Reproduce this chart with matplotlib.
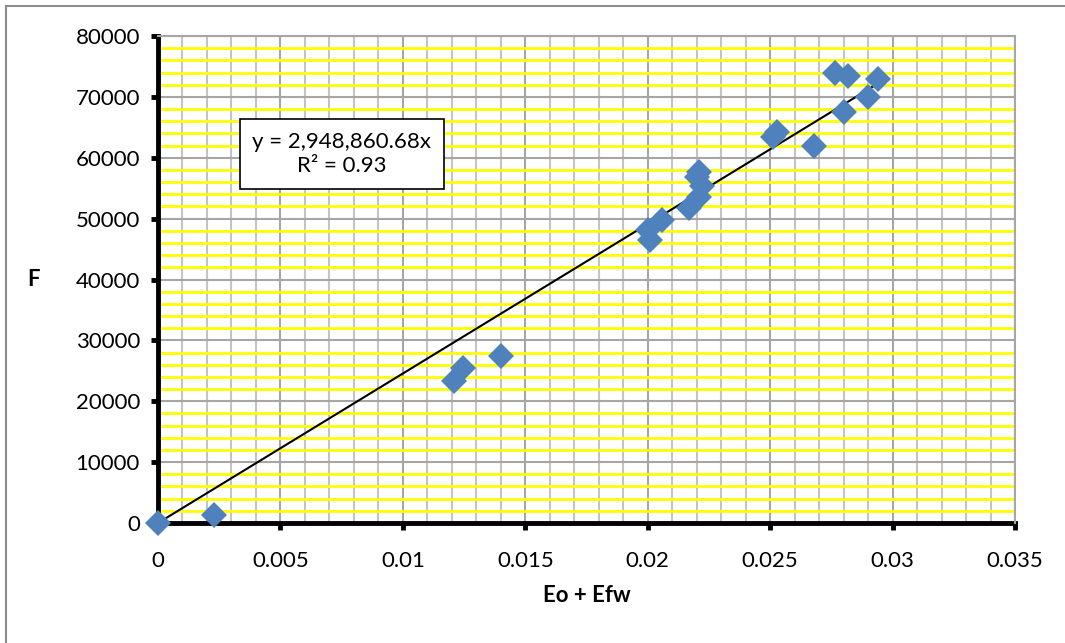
import numpy as np
import matplotlib
matplotlib.use("Agg")
import matplotlib.pyplot as plt
from matplotlib.ticker import MultipleLocator, FuncFormatter
import matplotlib.patches as mpatches

plt.rcParams['font.family'] = ['Lato', 'DejaVu Sans']

# datos
eo_efw = [0.0, 0.0023, 0.0121, 0.01245, 0.0140,
          0.0200, 0.0201, 0.0206, 0.0217, 0.0221,
          0.0220, 0.0222, 0.0221, 0.0251, 0.0253,
          0.0268, 0.02765, 0.0280, 0.0282, 0.0290, 0.0294]
F = [0, 1300, 23400, 25500, 27400,
     48200, 46500, 49800, 51800, 57700,
     56800, 55300, 53600, 63400, 64300,
     62000, 73900, 67500, 73500, 70000, 72900]

etiqueta = "y = 2,948,860.68x\nR² = 0.93"

x = np.array(eo_efw)
y = np.array(F)
# recta por el origen (minimos cuadrados)
pendiente = (x * y).sum() / (x * x).sum()
xl = np.array([0, x.max()])

fig = plt.figure(figsize=(10.65, 6.43), dpi=100)
ax = fig.add_axes([158/1065, 1-523/643, (1015-158)/1065, (523-36)/643])

ax.set_xlim(0, 0.035)
ax.set_ylim(0, 80000)
ax.xaxis.set_major_locator(MultipleLocator(0.005))
ax.xaxis.set_minor_locator(MultipleLocator(0.001))
ax.yaxis.set_major_locator(MultipleLocator(10000))
ax.yaxis.set_minor_locator(MultipleLocator(2000))

ax.grid(which='minor', axis='x', color='#c4c4c4', lw=1.5)
ax.grid(which='minor', axis='y', color='#ffff00', lw=2)
ax.grid(which='major', color='#a6a6a6', lw=1.5)
ax.set_axisbelow(True)

ax.plot(xl, pendiente * xl, color='black', lw=1.5, zorder=3)
ax.plot(x, y, 'D', color='#4f81bd', markersize=13, markeredgewidth=0, zorder=4, clip_on=False)

for s in ['top', 'right']:
    ax.spines[s].set_color('#a6a6a6')
    ax.spines[s].set_linewidth(1.5)
for s in ['left', 'bottom']:
    ax.spines[s].set_color('black')
    ax.spines[s].set_linewidth(3.5)
    ax.spines[s].set_zorder(2)

def fmt_x(v, pos):
    return ('%.3f' % v).rstrip('0').rstrip('.') if v != 0 else '0'

ax.xaxis.set_major_formatter(FuncFormatter(fmt_x))
ax.yaxis.set_major_formatter(FuncFormatter(lambda v, p: '%d' % v))
ax.tick_params(which='major', direction='out', length=5, width=3.5, labelsize=16, color='black')
ax.tick_params(axis='x', which='major', pad=15)
ax.tick_params(axis='y', which='major', pad=8)
ax.tick_params(which='minor', length=0)

ax.set_xlabel("Eo + Efw", fontsize=16, fontweight='bold', labelpad=10)
ax.set_ylabel("F", fontsize=16, fontweight='bold', rotation=0, labelpad=30, va='center')

ax.text((342-158)/857, 1-(154-36)/487, etiqueta, transform=ax.transAxes,
        ha='center', va='center', fontsize=16, linespacing=1.3, zorder=5,
        bbox=dict(boxstyle='square,pad=0.55', fc='white', ec='black', lw=1.2))

# borde del area del grafico
fig.patches.append(mpatches.Rectangle((6/1065, -0.1), 1.2, 1-6/643+0.1, transform=fig.transFigure,
                                      fill=False, ec='#8c8c8c', lw=1.5))

fig.savefig("out.png", dpi=100)
